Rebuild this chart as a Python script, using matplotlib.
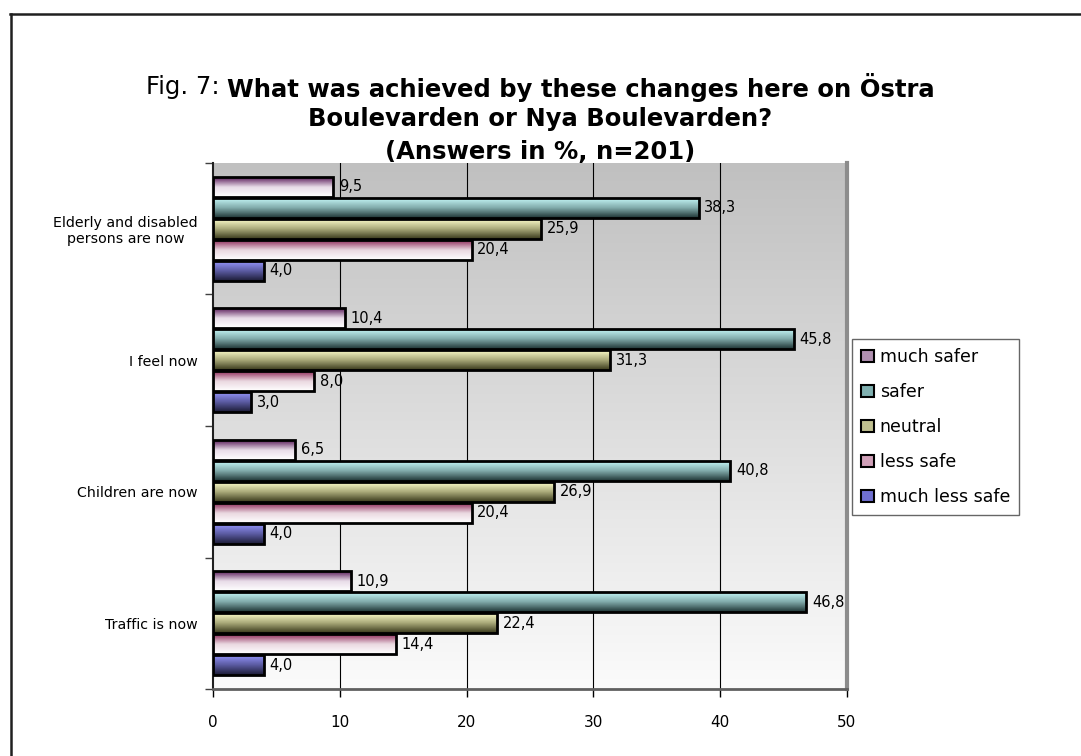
import numpy as np
import matplotlib
matplotlib.use('Agg')
import matplotlib.pyplot as plt
from matplotlib.colors import LinearSegmentedColormap
from matplotlib.patches import Patch
from matplotlib.lines import Line2D

# categories listed top to bottom as in the chart
categories = ['Elderly and disabled\npersons are now', 'I feel now', 'Children are now', 'Traffic is now']
series_names = ['much safer', 'safer', 'neutral', 'less safe', 'much less safe']
much_safer = [9.5, 10.4, 6.5, 10.9]
safer = [38.3, 45.8, 40.8, 46.8]
neutral = [25.9, 31.3, 26.9, 22.4]
less_safe = [20.4, 8.0, 20.4, 14.4]
much_less_safe = [4.0, 3.0, 4.0, 4.0]
x_ticks = [0, 10, 20, 30, 40, 50]

series = [much_safer, safer, neutral, less_safe, much_less_safe]
# gradient colours, top of bar -> bottom of bar
grads = [['#5a1c5a', '#e8dce8', '#ffffff'],
         ['#c4f6f6', '#7fa8a8', '#1e3434'],
         ['#fbfbc8', '#a8a878', '#3a3a1c'],
         ['#8e2a5a', '#ead8e0', '#ffffff'],
         ['#9494fa', '#5a5aa0', '#1c1c36']]
legend_cols = ['#b090b0', '#80b0b0', '#c0c090', '#d0a0b8', '#7070d0']

plt.rcParams['font.family'] = ['DejaVu Sans']

fig = plt.figure(figsize=(10.81, 7.56), dpi=100)
ax = fig.add_axes([0.197, 0.0886, 0.5865, 0.6958])

n = len(categories)
ypos = np.arange(n)[::-1]          # first category at top
offsets = [0.32, 0.16, 0.0, -0.16, -0.32]
bh = 0.15

ax.set_xlim(0, 50)
ax.set_ylim(-0.5, n - 0.5)

# plot area background gradient
bg = np.linspace(0, 1, 256).reshape(-1, 1)
bg_cmap = LinearSegmentedColormap.from_list('bg', ['#c0c0c0', '#fbfbfb'])
ax.imshow(bg, cmap=bg_cmap, aspect='auto', extent=[0, 1, 0, 1], transform=ax.transAxes,
          zorder=0, interpolation='bilinear')

for xv in x_ticks[1:-1]:
    ax.axvline(xv, color='black', lw=0.8, zorder=1)

grad = np.linspace(0, 1, 64).reshape(-1, 1)
for vals, off, cols in zip(series, offsets, grads):
    cmap = LinearSegmentedColormap.from_list('g', cols)
    bars = ax.barh(ypos + off, vals, height=bh, facecolor='none', edgecolor='black',
                   linewidth=2.0, zorder=3)
    for b, v in zip(bars, vals):
        y0 = b.get_y()
        im = ax.imshow(grad, cmap=cmap, aspect='auto', interpolation='bilinear',
                       extent=[0, v, y0, y0 + bh], origin='upper', zorder=2)
        im.set_clip_path(b)
        ax.text(v + 0.45, y0 + bh / 2, f'{v:.1f}'.replace('.', ','), ha='left',
                va='center', fontsize=10.5, zorder=4)

ax.set_xlim(0, 50)
ax.set_ylim(-0.5, n - 0.5)

ax.set_xticks(x_ticks)
ax.set_xticklabels([str(t) for t in x_ticks], fontsize=11)
ax.tick_params(axis='x', direction='out', length=6, width=1, pad=13, colors='black')
ax.set_yticks(ypos)
ax.set_yticklabels(categories, fontsize=10.2, ha='right', multialignment='center')
ax.tick_params(axis='y', which='major', length=0, pad=11)
ax.set_yticks(np.arange(-0.5, n, 1.0), minor=True)
ax.tick_params(axis='y', which='minor', direction='out', length=6, width=1, color='#404040')

ax.spines['top'].set_visible(False)
ax.spines['left'].set_color('#202020')
ax.spines['left'].set_linewidth(1.5)
ax.spines['bottom'].set_color('#606060')
ax.spines['bottom'].set_linewidth(2)
ax.spines['right'].set_color('#8c8c8c')
ax.spines['right'].set_linewidth(3)

handles = [Patch(facecolor=c, edgecolor='black', linewidth=1.5) for c in legend_cols]
fig.legend(handles, series_names, loc='upper left', bbox_to_anchor=(0.788, 0.551),
           fontsize=12.5, frameon=True, fancybox=False, edgecolor='#404040',
           handlelength=0.75, handleheight=0.75, handletextpad=0.35, labelspacing=0.98,
           borderpad=0.5, borderaxespad=0)

# title: regular prefix + bold rest on the first line
renderer = fig.canvas.get_renderer()
t1a = fig.text(0, 0, 'Fig. 7: ', fontsize=17.5)
t1b = fig.text(0, 0, 'What was achieved by these changes here on Östra', fontsize=17.5,
               fontweight='bold')
wa = t1a.get_window_extent(renderer).width
wb = t1b.get_window_extent(renderer).width
x0 = (1081 - wa - wb) / 2
ty = 1 - 87 / 756
t1a.set_position((x0 / 1081, ty))
t1a.set_va('center')
t1b.set_position(((x0 + wa) / 1081, ty))
t1b.set_va('center')
fig.text(0.5, 1 - 119 / 756, 'Boulevarden or Nya Boulevarden?', fontsize=17.5,
         fontweight='bold', ha='center', va='center')
fig.text(0.5, 1 - 152 / 756, '(Answers in %, n=201)', fontsize=17.5,
         fontweight='bold', ha='center', va='center')

# chart area frame (top and left edges visible)
fig.add_artist(Line2D([10 / 1081, 1.0], [1 - 14 / 756, 1 - 14 / 756], color='#202020',
                      lw=1.8, transform=fig.transFigure))
fig.add_artist(Line2D([11 / 1081, 11 / 1081], [0, 1 - 14 / 756], color='#202020',
                      lw=1.8, transform=fig.transFigure))

fig.savefig('out.png', dpi=100)
